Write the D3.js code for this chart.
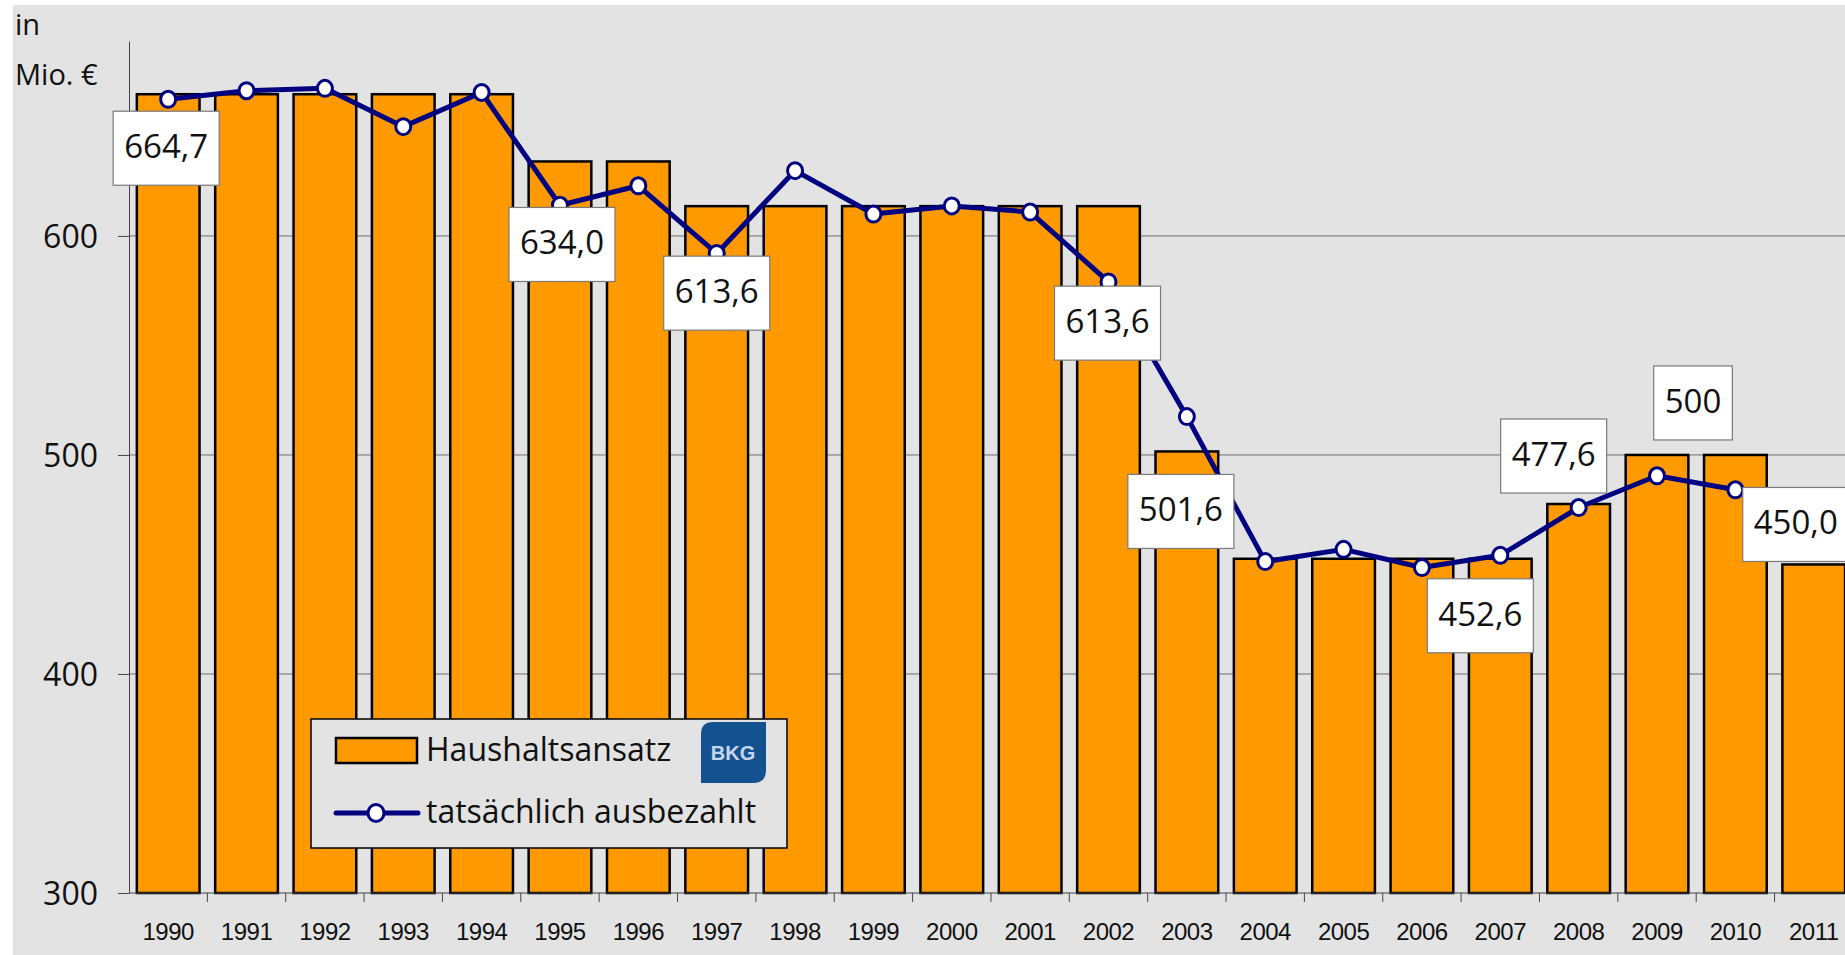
<!DOCTYPE html>
<html>
<head>
<meta charset="utf-8">
<script src="https://cdn.jsdelivr.net/npm/d3@7"></script>
<style>
  body { margin: 0; background: #ffffff; }
  svg { display: block; font-family: "Open Sans", "Noto Sans", sans-serif; }
</style>
</head>
<body>
<svg id="chart" width="1845" height="955"></svg>
<script>
var years = ["1990", "1991", "1992", "1993", "1994", "1995", "1996", "1997", "1998", "1999", "2000",
             "2001", "2002", "2003", "2004", "2005", "2006", "2007", "2008", "2009", "2010", "2011"];

// Haushaltsansatz (bars)
var budget = [664.7, 664.7, 664.7, 664.7, 664.7, 634.0, 634.0, 613.6, 613.6, 613.6, 613.6,
              613.6, 613.6, 501.6, 452.6, 452.6, 452.6, 452.6, 477.6, 500.0, 500.0, 450.0];

// tatsächlich ausbezahlt (line), 1990 - 2010
var paid = [662.4, 666.3, 667.4, 649.9, 665.5, 614.0, 622.9, 592.0, 629.8, 610.0, 613.7,
            610.9, 579.0, 517.5, 451.3, 456.9, 448.6, 454.2, 476.0, 490.5, 484.1];

var yTicks = [300, 400, 500, 600];

var labelYears = ["1990", "1995", "1997", "2002", "2003", "2007", "2008", "2009", "2011"];
var labelTexts = ["664,7", "634,0", "613,6", "613,6", "501,6", "452,6", "477,6", "500", "450,0"];
var labelValues = [664.7, 634.0, 613.6, 613.6, 501.6, 452.6, 477.6, 500.0, 450.0];

var legendNames = ["Haushaltsansatz", "tatsächlich ausbezahlt"];

// label box offsets from the bar top (placement only)
var labelOffsets = [[-2, 54], [2, 83], [0, 87], [-1, 117], [-6, 60], [-20, 57], [-25, -48], [36, -52], [-18, -40]];

var props = {
    barFill: "#ff9900",
    lineColor: "#000080",
    bg: "#e3e3e3",
    grid: "#6e6e6e",
    textColor: "#111111"
};

var svg = d3.select("#chart");

svg.append("rect")
    .attr("x", 13).attr("y", 5)
    .attr("width", 1845 - 13).attr("height", 955 - 5)
    .attr("fill", props.bg);

var x = d3.scaleBand()
    .domain(years)
    .range([129, 129 + 22 * 78.36])
    .paddingInner(0.2)
    .paddingOuter(0.1);

var y = d3.scaleLinear()
    .domain([300, 689])
    .range([893, 41]);

var xc = d => x(d) + x.bandwidth() / 2;

// grid lines
svg.append("g")
    .selectAll("line")
    .data(yTicks.filter(d => d > 300))
    .enter()
    .append("line")
    .attr("x1", 129).attr("x2", 1845)
    .attr("y1", d => y(d)).attr("y2", d => y(d))
    .attr("stroke", props.grid)
    .attr("stroke-width", 1);

// bars
svg.append("g")
    .selectAll("rect")
    .data(years)
    .enter()
    .append("rect")
    .attr("x", d => x(d))
    .attr("y", (d, i) => y(budget[i]))
    .attr("width", x.bandwidth())
    .attr("height", (d, i) => y(300) - y(budget[i]))
    .attr("fill", props.barFill)
    .attr("stroke", "#000")
    .attr("stroke-width", 2.5);

// y axis
var yAxis = svg.append("g")
    .attr("transform", "translate(129,0)")
    .call(d3.axisLeft(y).tickValues(yTicks).tickSize(11).tickSizeOuter(0).tickPadding(20));
yAxis.select(".domain").attr("stroke", "#444");
yAxis.selectAll(".tick line").attr("stroke", "#444");
yAxis.selectAll("text")
    .attr("font-size", 32)
    .attr("font-family", "Open Sans")
    .attr("fill", props.textColor)
    .attr("dy", "0.36em");

// x axis
svg.append("line")
    .attr("x1", 129).attr("x2", 1845)
    .attr("y1", y(300)).attr("y2", y(300))
    .attr("stroke", "#444");

var gap = x.step() * x.paddingInner() / 2;
svg.append("g")
    .selectAll("line")
    .data(years.slice(1))
    .enter()
    .append("line")
    .attr("x1", d => x(d) - gap).attr("x2", d => x(d) - gap)
    .attr("y1", y(300)).attr("y2", y(300) + 9)
    .attr("stroke", "#444");

var xAxis = svg.append("g")
    .attr("transform", `translate(0,${y(300)})`)
    .call(d3.axisBottom(x).tickSize(0).tickPadding(30));
xAxis.select(".domain").remove();
xAxis.selectAll("text")
    .attr("font-size", 24)
    .attr("font-family", "Liberation Sans, Arial, sans-serif")
    .attr("letter-spacing", -0.5)
    .attr("fill", props.textColor);

// unit
svg.append("text").attr("x", 15).attr("y", 35).attr("font-size", 29).attr("fill", props.textColor).text("in");
svg.append("text").attr("x", 15).attr("y", 85).attr("font-size", 29).attr("fill", props.textColor).text("Mio. €");

// line + markers
var line = d3.line()
    .x((d, i) => xc(years[i]))
    .y(d => y(d));

svg.append("path")
    .datum(paid)
    .attr("d", line)
    .attr("fill", "none")
    .attr("stroke", props.lineColor)
    .attr("stroke-width", 5)
    .attr("stroke-linejoin", "round");

svg.append("g")
    .selectAll("ellipse")
    .data(paid)
    .enter()
    .append("ellipse")
    .attr("cx", (d, i) => xc(years[i]))
    .attr("cy", d => y(d))
    .attr("rx", 7.5).attr("ry", 8)
    .attr("fill", "#fff")
    .attr("stroke", props.lineColor)
    .attr("stroke-width", 3);

// value labels
var labels = svg.append("g")
    .selectAll("g")
    .data(labelTexts)
    .enter()
    .append("g")
    .attr("transform", (d, i) => `translate(${xc(labelYears[i]) + labelOffsets[i][0]},${y(labelValues[i]) + labelOffsets[i][1]})`);

labels.append("rect").attr("class", "box");
labels.append("text")
    .attr("text-anchor", "middle")
    .attr("y", 10)
    .attr("font-size", 33)
    .attr("fill", props.textColor)
    .text(d => d);

labels.each(function() {
    var g = d3.select(this);
    var w = g.select("text").node().getBBox().width + 22;
    g.select(".box")
        .attr("x", -w / 2).attr("y", -37)
        .attr("width", w).attr("height", 74)
        .attr("fill", "#fff")
        .attr("stroke", "#7a7a7a")
        .attr("stroke-width", 1.2);
});

// legend
var legend = svg.append("g").attr("transform", "translate(311,719)");
legend.append("rect")
    .attr("width", 476).attr("height", 129)
    .attr("fill", props.bg)
    .attr("stroke", "#000")
    .attr("stroke-width", 1.5);

legend.append("rect")
    .attr("x", 25).attr("y", 19)
    .attr("width", 81).attr("height", 25)
    .attr("fill", props.barFill)
    .attr("stroke", "#000")
    .attr("stroke-width", 2.5);
legend.append("line")
    .attr("x1", 25).attr("x2", 107)
    .attr("y1", 94).attr("y2", 94)
    .attr("stroke", props.lineColor)
    .attr("stroke-width", 5)
    .attr("stroke-linecap", "round");
legend.append("ellipse")
    .attr("cx", 65).attr("cy", 94)
    .attr("rx", 8).attr("ry", 8.5)
    .attr("fill", "#fff")
    .attr("stroke", props.lineColor)
    .attr("stroke-width", 3);

legend.selectAll(".lname")
    .data(legendNames)
    .enter()
    .append("text")
    .attr("class", "lname")
    .attr("x", 115)
    .attr("y", (d, i) => 42 + i * 62)
    .attr("font-size", 32)
    .attr("fill", props.textColor)
    .text(d => d);

// BKG logo
var logo = legend.append("g").attr("transform", "translate(390,3)");
logo.append("path")
    .attr("d", "M 12 0 L 65 0 L 65 48 Q 65 61 52 61 L 0 61 L 0 12 Q 0 0 12 0 Z")
    .attr("fill", "#14518f");
logo.append("text")
    .attr("x", 32).attr("y", 38)
    .attr("text-anchor", "middle")
    .attr("font-family", "Liberation Sans, Arial, sans-serif")
    .attr("font-weight", "bold")
    .attr("font-size", 20)
    .attr("fill", "#c5d7ee")
    .text("BKG");
</script>
</body>
</html>
